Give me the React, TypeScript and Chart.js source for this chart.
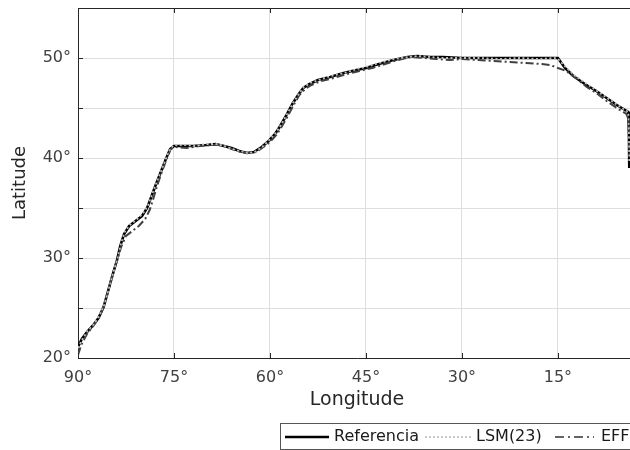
import React, { useEffect, useRef } from "react";
import { Chart, registerables } from "chart.js";

Chart.register(...registerables);

// Longitude / latitude of each track (degrees)
const refLon = [90.0, 89.4, 88.6, 87.6, 86.8, 86.0, 85.3, 84.6, 83.9, 83.4, 82.8, 82.0, 81.0, 80.0, 79.2, 78.5, 77.8, 77.0, 76.2, 75.6, 75.0, 73.5, 72.0, 70.0, 68.5, 67.2, 66.0, 64.8, 63.6, 62.5, 61.3, 60.2, 59.2, 58.4, 57.5, 56.5, 55.6, 54.8, 53.8, 52.5, 50.6, 48.5, 46.5, 45.0, 43.0, 40.7, 38.5, 37.0, 35.0, 33.0, 30.0, 27.0, 24.0, 21.0, 18.0, 15.5, 15.0, 13.9, 12.6, 10.8, 9.0, 7.4, 5.8, 4.0, 3.9, 3.85];
const refLat = [21.1, 21.9, 22.6, 23.3, 24.0, 25.1, 26.7, 28.3, 29.8, 31.2, 32.4, 33.2, 33.7, 34.2, 35.0, 36.2, 37.4, 38.7, 40.0, 40.9, 41.2, 41.2, 41.2, 41.3, 41.4, 41.2, 41.0, 40.7, 40.5, 40.6, 41.1, 41.7, 42.4, 43.2, 44.2, 45.4, 46.3, 47.0, 47.4, 47.8, 48.1, 48.5, 48.8, 49.0, 49.4, 49.8, 50.1, 50.2, 50.1, 50.1, 50.0, 50.0, 50.0, 50.0, 50.0, 50.0, 50.0, 49.0, 48.2, 47.4, 46.7, 46.0, 45.3, 44.6, 42.0, 39.0];

const lsmLon = [90.0, 89.3, 88.5, 87.5, 86.7, 85.9, 85.2, 84.5, 83.8, 83.3, 82.7, 81.9, 80.9, 79.9, 79.1, 78.4, 77.7, 76.9, 76.1, 75.5, 74.9, 73.4, 71.9, 70.0, 68.4, 67.1, 65.9, 64.7, 63.5, 62.4, 61.2, 60.1, 59.1, 58.3, 57.4, 56.4, 55.5, 54.7, 53.7, 52.4, 50.5, 48.4, 46.4, 45.0, 42.9, 40.6, 38.4, 36.9, 34.9, 32.9, 30.0, 27.0, 24.0, 21.0, 18.0, 15.6, 15.0, 13.8, 12.5, 10.7, 8.9, 7.3, 5.7, 4.0, 3.9, 3.85];
const lsmLat = [21.0, 21.9, 22.7, 23.4, 24.2, 25.3, 26.9, 28.5, 30.0, 31.4, 32.6, 33.3, 33.8, 34.4, 35.2, 36.4, 37.6, 38.9, 40.2, 41.0, 41.3, 41.3, 41.2, 41.4, 41.4, 41.2, 40.9, 40.7, 40.5, 40.6, 41.1, 41.8, 42.5, 43.3, 44.3, 45.5, 46.4, 47.1, 47.5, 47.8, 48.2, 48.5, 48.9, 49.1, 49.5, 49.9, 50.1, 50.2, 50.1, 50.0, 50.0, 50.0, 49.9, 50.0, 49.9, 50.0, 49.9, 49.1, 48.3, 47.5, 46.7, 46.0, 45.3, 44.6, 42.5, 39.5];

const effLon = [90.0, 89.5, 88.6, 87.5, 86.7, 85.9, 85.2, 84.5, 83.8, 83.2, 82.5, 81.5, 80.5, 79.5, 78.8, 78.2, 77.6, 76.9, 76.1, 75.5, 74.8, 73.0, 71.0, 69.0, 67.5, 66.0, 64.5, 63.4, 62.2, 61.0, 60.0, 59.0, 58.2, 57.3, 56.3, 55.4, 54.5, 53.5, 52.0, 50.0, 48.0, 46.0, 44.0, 42.0, 40.0, 38.0, 36.0, 34.0, 32.0, 30.0, 27.5, 25.0, 22.5, 20.0, 17.5, 16.2, 15.0, 13.7, 12.0, 10.5, 9.0, 7.4, 5.8, 4.3, 3.9, 3.8];
const effLat = [20.3, 21.3, 22.4, 23.3, 24.1, 25.3, 26.9, 28.5, 30.0, 31.2, 32.2, 32.7, 33.2, 33.9, 34.8, 36.0, 37.3, 38.6, 40.0, 40.9, 41.1, 41.0, 41.2, 41.3, 41.3, 40.9, 40.6, 40.5, 40.6, 41.1, 41.6, 42.3, 43.1, 44.1, 45.3, 46.3, 46.9, 47.3, 47.7, 48.0, 48.4, 48.7, 49.0, 49.4, 49.8, 50.1, 50.0, 49.9, 49.8, 49.9, 49.8, 49.7, 49.6, 49.5, 49.4, 49.3, 49.0, 48.7, 47.9, 47.1, 46.5, 45.7, 45.0, 44.4, 43.8, 40.0];

const seriesNames = ["Referencia", "LSM(23)", "EFF"];
const xTickValues = [90, 75, 60, 45, 30, 15];
const yLabelValues = [20, 30, 40, 50];

const FONT = "'DejaVu Sans', sans-serif";

const toPoints = (lon: number[], lat: number[]) => lon.map((x, i) => ({ x, y: lat[i] }));

const frameAndLegend = {
  id: "frameAndLegend",
  afterDatasetsDraw(chart: any) {
    const { ctx, chartArea, scales } = chart;
    const { left, right, top, bottom } = chartArea;
    ctx.save();
    ctx.strokeStyle = "#262626";
    ctx.lineWidth = 1;
    ctx.beginPath();
    ctx.moveTo(left, top + 0.5);
    ctx.lineTo(right, top + 0.5);
    ctx.stroke();
    ctx.beginPath();
    scales.x.ticks.forEach((t: any) => {
      const px = Math.round(scales.x.getPixelForValue(t.value)) + 0.5;
      ctx.moveTo(px, bottom);
      ctx.lineTo(px, bottom - 5);
      ctx.moveTo(px, top);
      ctx.lineTo(px, top + 5);
    });
    scales.y.ticks.forEach((t: any) => {
      const py = Math.round(scales.y.getPixelForValue(t.value)) + 0.5;
      ctx.moveTo(left, py);
      ctx.lineTo(left + 5, py);
    });
    ctx.stroke();
    ctx.restore();
  },
  afterDraw(chart: any) {
    const { ctx } = chart;
    ctx.save();
    ctx.fillStyle = "#ffffff";
    ctx.fillRect(280, 423, 420, 26);
    ctx.strokeStyle = "#555";
    ctx.lineWidth = 1;
    ctx.strokeRect(280.5, 423.5, 420, 26);
    const yMid = 437;
    ctx.strokeStyle = "#000";
    ctx.lineWidth = 2.5;
    ctx.setLineDash([]);
    ctx.beginPath();
    ctx.moveTo(285, yMid);
    ctx.lineTo(329, yMid);
    ctx.stroke();
    ctx.strokeStyle = "#c8c8c8";
    ctx.lineWidth = 2;
    ctx.setLineDash([2, 2]);
    ctx.beginPath();
    ctx.moveTo(425, yMid);
    ctx.lineTo(472, yMid);
    ctx.stroke();
    ctx.strokeStyle = "#333";
    ctx.lineWidth = 1.5;
    ctx.setLineDash([9, 4, 2, 4]);
    ctx.beginPath();
    ctx.moveTo(555, yMid);
    ctx.lineTo(594, yMid);
    ctx.stroke();
    ctx.setLineDash([]);
    ctx.fillStyle = "#1a1a1a";
    ctx.font = `16px ${FONT}`;
    ctx.textBaseline = "middle";
    ctx.textAlign = "left";
    ctx.fillText(seriesNames[0], 334, yMid);
    ctx.fillText(seriesNames[1], 476, yMid);
    ctx.fillText(seriesNames[2], 601, yMid);
    ctx.restore();
  },
};

export default function App() {
  const ref = useRef<HTMLCanvasElement | null>(null);

  useEffect(() => {
    if (!ref.current) return;
    const chart = new Chart(ref.current, {
      type: "scatter",
      data: {
        datasets: [
          {
            label: seriesNames[0],
            data: toPoints(refLon, refLat),
            showLine: true,
            borderColor: "#000000",
            borderWidth: 2.6,
            pointRadius: 0,
            order: 2,
          },
          {
            label: seriesNames[1],
            data: toPoints(lsmLon, lsmLat),
            showLine: true,
            borderColor: "#bdbdbd",
            borderWidth: 1.8,
            borderDash: [2, 2.5],
            pointRadius: 0,
            order: 0,
          },
          {
            label: seriesNames[2],
            data: toPoints(effLon, effLat),
            showLine: true,
            borderColor: "#404040",
            borderWidth: 2,
            borderDash: [8, 3, 2, 3],
            pointRadius: 0,
            order: 1,
          },
        ],
      },
      options: {
        responsive: false,
        animation: false,
        devicePixelRatio: 1,
        layout: { padding: { top: 8, left: 0, right: 0, bottom: 34 } },
        plugins: { legend: { display: false }, tooltip: { enabled: false } },
        scales: {
          x: {
            type: "linear",
            reverse: true,
            min: 2.8,
            max: 90,
            afterBuildTicks: (s: any) => {
              s.ticks = xTickValues.map((v) => ({ value: v }));
            },
            afterFit: (s: any) => {
              s.height = 58;
              s.paddingLeft = 0;
              s.paddingRight = 0;
              s.paddingTop = 0;
              s.paddingBottom = 0;
            },
            ticks: {
              callback: (v: any) => `${v}°`,
              color: "#404040",
              font: { family: FONT, size: 16 },
              padding: 10,
              maxRotation: 0,
              autoSkip: false,
            },
            grid: { color: "#dedede", lineWidth: 1, drawTicks: false },
            border: { display: true, color: "#262626", width: 1 },
            title: {
              display: true,
              text: "Longitude",
              color: "#262626",
              font: { family: FONT, size: 19 },
              padding: { top: 0, bottom: 5 },
            },
          },
          y: {
            type: "linear",
            min: 20,
            max: 55,
            afterFit: (s: any) => {
              s.width = 78;
              s.paddingLeft = 0;
              s.paddingRight = 0;
              s.paddingTop = 0;
              s.paddingBottom = 0;
            },
            ticks: {
              stepSize: 5,
              callback: (v: any) => (yLabelValues.includes(Number(v)) ? `${v}°` : ""),
              color: "#404040",
              font: { family: FONT, size: 16 },
              padding: 7,
              autoSkip: false,
            },
            grid: { color: "#dedede", lineWidth: 1, drawTicks: false },
            border: { display: true, color: "#262626", width: 1 },
            title: {
              display: true,
              text: "Latitude",
              color: "#262626",
              font: { family: FONT, size: 18 },
              padding: { top: 10, bottom: 0 },
            },
          },
        },
      },
      plugins: [frameAndLegend],
    });
    return () => chart.destroy();
  }, []);

  return (
    <div style={{ position: "absolute", left: 0, top: 0, width: 630, height: 450, overflow: "hidden", background: "#fff" }}>
      <canvas ref={ref} width={636} height={450} style={{ display: "block" }} />
    </div>
  );
}
